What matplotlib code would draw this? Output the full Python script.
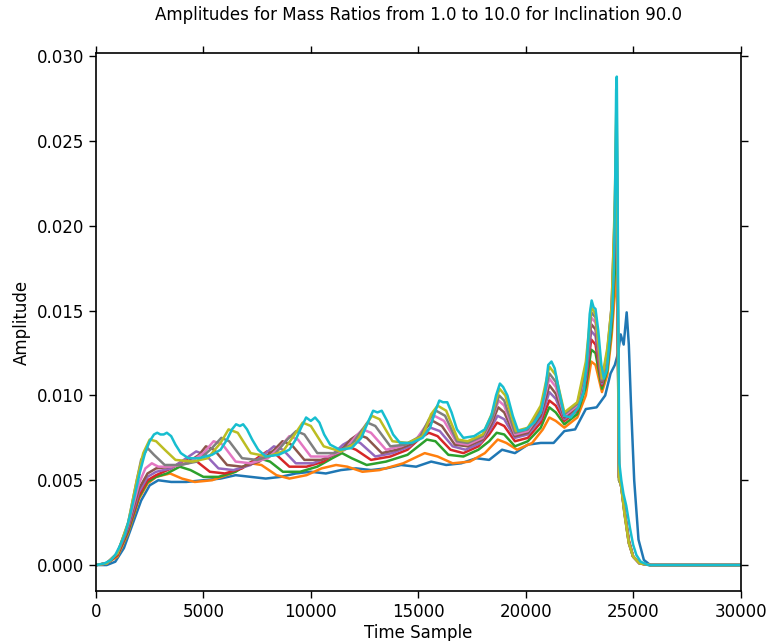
import matplotlib
matplotlib.use("Agg")
import matplotlib.pyplot as plt

mass_ratios = [1.0, 2.0, 3.0, 4.0, 5.0, 6.0, 7.0, 8.0, 9.0, 10.0]
colors = ["#1f77b4", "#ff7f0e", "#2ca02c", "#d62728", "#9467bd",
          "#8c564b", "#e377c2", "#7f7f7f", "#bcbd22", "#17becf"]

t_q1 = [0, 500, 900, 1300, 1700, 2100, 2500, 2900, 3500, 4200, 5000, 5800, 6500, 7200, 7900, 8600,
        9300, 10000, 10700, 11400, 12100, 12800, 13500, 14200, 14900, 15600, 16300, 17000, 17700,
        18300, 18900, 19500, 20100, 20700, 21300, 21800, 22300, 22800, 23300, 23700, 23950, 24150,
        24300, 24420, 24560, 24700, 24800, 24900, 25050, 25250, 25500, 25800, 30000]
a_q1 = [0, 0, 0.0002, 0.0010, 0.0024, 0.0038, 0.0047, 0.0050, 0.0049, 0.0049, 0.0050, 0.0051, 0.0053,
        0.0052, 0.0051, 0.0052, 0.0054, 0.0055, 0.0054, 0.0056, 0.0057, 0.0056, 0.0057, 0.0059, 0.0058,
        0.0061, 0.0059, 0.0060, 0.0063, 0.0062, 0.0068, 0.0066, 0.0071, 0.0072, 0.0072, 0.0079, 0.0080,
        0.0092, 0.0093, 0.0100, 0.0113, 0.0118, 0.0125, 0.0136, 0.0130, 0.0149, 0.0130, 0.0095, 0.0050,
        0.0015, 0.0003, 0, 0]

t_q2 = [0, 500, 1000, 1500, 2000, 2400, 2800, 3450, 4000, 4600, 5400, 6300, 7200, 7700, 8400, 9000,
        9800, 10500, 11175, 11700, 12400, 13200, 14300, 15300, 15900, 16600, 17400, 18100, 18700, 19100,
        19600, 20300, 20800, 21100, 21400, 21800, 22400, 22800, 23050, 23250, 23550, 23800, 24000, 24150,
        24230, 24300, 24350, 24450, 24600, 24800, 25000, 25300, 25800, 30000]
a_q2 = [0, 0.0001, 0.0005, 0.0019, 0.0039, 0.0048, 0.0052, 0.0054, 0.0051, 0.0049, 0.0050, 0.0054,
        0.0060, 0.0059, 0.0053, 0.0051, 0.0053, 0.0057, 0.0059, 0.0058, 0.0055, 0.0056, 0.0060, 0.0066,
        0.0064, 0.0060, 0.0061, 0.0066, 0.0074, 0.0072, 0.0068, 0.0072, 0.0080, 0.0087, 0.0085, 0.0081,
        0.0087, 0.0100, 0.0120, 0.0118, 0.0102, 0.0112, 0.0135, 0.0160, 0.0182, 0.0120, 0.0050, 0.0047,
        0.0032, 0.0015, 0.0005, 0.0001, 0, 0]

t_q3 = [0, 500, 1000, 1500, 2000, 2400, 2800, 3300, 3900, 4400, 5000, 5700, 6500, 7100, 7600, 8100,
        8700, 9500, 10300, 11000, 11450, 11900, 12600, 13500, 14500, 15000, 15400, 15800, 16400, 17100,
        17800, 18300, 18650, 19000, 19500, 20100, 20700, 21100, 21400, 21800, 22400, 22800, 23050, 23250,
        23550, 23800, 24000, 24150, 24230, 24290, 24340, 24450, 24600, 24800, 25000, 25300, 25800, 30000]
a_q3 = [0, 0.0001, 0.0006, 0.0020, 0.0040, 0.0049, 0.0052, 0.0054, 0.0058, 0.0056, 0.0052, 0.0052,
        0.0055, 0.0060, 0.0063, 0.0061, 0.0055, 0.0055, 0.0058, 0.0063, 0.0066, 0.0063, 0.0059, 0.0061,
        0.0065, 0.0070, 0.0074, 0.0073, 0.0065, 0.0064, 0.0068, 0.0073, 0.0078, 0.0077, 0.0070, 0.0073,
        0.0081, 0.0093, 0.0090, 0.0083, 0.0089, 0.0105, 0.0127, 0.0125, 0.0104, 0.0115, 0.0140, 0.0175,
        0.0205, 0.0130, 0.0050, 0.0047, 0.0032, 0.0014, 0.0005, 0.0001, 0, 0]

t_q4 = [0, 500, 1000, 1500, 2000, 2400, 2800, 3500, 4000, 4305, 4700, 5300, 6000, 6800, 7500, 7960,
        8400, 9000, 9800, 10600, 11300, 11700, 12100, 12800, 13700, 14500, 15100, 15490, 15900, 16500,
        17100, 17800, 18300, 18670, 19000, 19500, 20100, 20700, 21100, 21400, 21800, 22400, 22800, 23050,
        23250, 23550, 23800, 24000, 24150, 24230, 24290, 24340, 24450, 24600, 24800, 25000, 25300, 25800,
        30000]
a_q4 = [0, 0.0001, 0.0006, 0.0021, 0.0041, 0.0050, 0.0053, 0.0057, 0.0061, 0.0063, 0.0061, 0.0055,
        0.0054, 0.0057, 0.0063, 0.0067, 0.0065, 0.0058, 0.0058, 0.0061, 0.0068, 0.0070, 0.0068, 0.0062,
        0.0064, 0.0068, 0.0075, 0.0078, 0.0076, 0.0068, 0.0066, 0.0070, 0.0077, 0.0084, 0.0082, 0.0073,
        0.0075, 0.0084, 0.0097, 0.0094, 0.0085, 0.0091, 0.0108, 0.0133, 0.0130, 0.0106, 0.0118, 0.0145,
        0.0185, 0.0225, 0.0135, 0.0052, 0.0047, 0.0032, 0.0014, 0.0005, 0.0001, 0, 0]

t_q5 = [0, 500, 1000, 1500, 2000, 2400, 2800, 3500, 4200, 4665, 5100, 5700, 6400, 7200, 7900, 8280,
        8700, 9300, 10100, 10900, 11500, 11920, 12300, 13000, 13800, 14600, 15200, 15570, 16000, 16600,
        17200, 17900, 18350, 18690, 19000, 19500, 20100, 20700, 21100, 21400, 21800, 22400, 22800, 23050,
        23250, 23550, 23800, 24000, 24150, 24230, 24290, 24340, 24450, 24600, 24800, 25000, 25300, 25800,
        30000]
a_q5 = [0, 0.0001, 0.0007, 0.0022, 0.0043, 0.0052, 0.0055, 0.0057, 0.0063, 0.0067, 0.0065, 0.0057,
        0.0056, 0.0059, 0.0066, 0.0070, 0.0068, 0.0060, 0.0060, 0.0064, 0.0071, 0.0074, 0.0072, 0.0064,
        0.0066, 0.0070, 0.0077, 0.0081, 0.0079, 0.0070, 0.0068, 0.0072, 0.0080, 0.0088, 0.0086, 0.0075,
        0.0077, 0.0086, 0.0102, 0.0098, 0.0086, 0.0092, 0.0110, 0.0138, 0.0135, 0.0107, 0.0120, 0.0148,
        0.0195, 0.0240, 0.0140, 0.0052, 0.0046, 0.0031, 0.0014, 0.0005, 0.0001, 0, 0]

t_q6 = [0, 500, 1000, 1500, 2000, 2400, 2800, 3500, 4200, 4800, 5115, 5500, 6100, 6800, 7600, 8300,
        8680, 9100, 9700, 10500, 11300, 11850, 12190, 12600, 13300, 14000, 14800, 15300, 15670, 16100,
        16700, 17300, 18000, 18400, 18720, 19000, 19500, 20100, 20700, 21100, 21400, 21800, 22400, 22800,
        23050, 23250, 23550, 23800, 24000, 24150, 24230, 24290, 24340, 24450, 24600, 24800, 25000, 25300,
        25800, 30000]
a_q6 = [0, 0.0001, 0.0007, 0.0023, 0.0045, 0.0054, 0.0057, 0.0058, 0.0060, 0.0065, 0.0070, 0.0068,
        0.0059, 0.0058, 0.0061, 0.0068, 0.0073, 0.0071, 0.0062, 0.0062, 0.0066, 0.0074, 0.0077, 0.0075,
        0.0066, 0.0068, 0.0072, 0.0080, 0.0085, 0.0082, 0.0071, 0.0070, 0.0074, 0.0083, 0.0093, 0.0090,
        0.0076, 0.0078, 0.0088, 0.0106, 0.0101, 0.0087, 0.0093, 0.0112, 0.0142, 0.0139, 0.0108, 0.0122,
        0.0150, 0.0200, 0.0252, 0.0145, 0.0052, 0.0046, 0.0031, 0.0013, 0.0005, 0.0001, 0, 0]

t_q7 = [0, 500, 1000, 1500, 2000, 2300, 2600, 2900, 3500, 4300, 5000, 5475, 5900, 6500, 7200, 8000,
        8600, 9000, 9400, 10000, 10800, 11600, 12100, 12410, 12800, 13500, 14200, 14900, 15400, 15750,
        16200, 16800, 17300, 18000, 18400, 18740, 19000, 19500, 20100, 20700, 21100, 21400, 21800, 22400,
        22800, 23050, 23250, 23550, 23800, 24000, 24150, 24230, 24290, 24340, 24450, 24600, 24800, 25000,
        25300, 25800, 30000]
a_q7 = [0, 0.0001, 0.0007, 0.0024, 0.0048, 0.0057, 0.0060, 0.0058, 0.0058, 0.0060, 0.0066, 0.0073,
        0.0071, 0.0061, 0.0060, 0.0063, 0.0070, 0.0076, 0.0074, 0.0064, 0.0064, 0.0068, 0.0076, 0.0080,
        0.0078, 0.0068, 0.0070, 0.0074, 0.0083, 0.0088, 0.0085, 0.0072, 0.0071, 0.0075, 0.0085, 0.0097,
        0.0094, 0.0077, 0.0079, 0.0090, 0.0110, 0.0105, 0.0088, 0.0094, 0.0114, 0.0146, 0.0143, 0.0109,
        0.0124, 0.0152, 0.0205, 0.0263, 0.0150, 0.0052, 0.0046, 0.0031, 0.0013, 0.0005, 0.0001, 0, 0]

t_q8 = [0, 500, 1000, 1500, 1900, 2100, 2400, 2700, 3200, 3900, 4700, 5400, 5835, 6200, 6800, 7500,
        8300, 8900, 9320, 9700, 10300, 11100, 11900, 12350, 12630, 13000, 13700, 14400, 15100, 15500,
        15830, 16250, 16800, 17300, 18000, 18450, 18760, 19000, 19500, 20100, 20700, 21100, 21400, 21800,
        22400, 22800, 23050, 23250, 23550, 23800, 24000, 24150, 24230, 24290, 24340, 24450, 24600, 24800,
        25000, 25300, 25800, 30000]
a_q8 = [0, 0.0001, 0.0007, 0.0025, 0.0050, 0.0062, 0.0069, 0.0065, 0.0059, 0.0059, 0.0061, 0.0069,
        0.0075, 0.0073, 0.0063, 0.0062, 0.0065, 0.0074, 0.0079, 0.0077, 0.0066, 0.0066, 0.0071, 0.0079,
        0.0084, 0.0082, 0.0070, 0.0071, 0.0076, 0.0086, 0.0091, 0.0088, 0.0073, 0.0072, 0.0076, 0.0087,
        0.0100, 0.0097, 0.0078, 0.0080, 0.0092, 0.0113, 0.0108, 0.0089, 0.0095, 0.0116, 0.0149, 0.0146,
        0.0109, 0.0126, 0.0153, 0.0210, 0.0272, 0.0155, 0.0052, 0.0046, 0.0030, 0.0013, 0.0005, 0.0001,
        0, 0]

t_q9 = [0, 500, 1000, 1500, 1900, 2200, 2500, 2800, 3200, 3700, 4500, 5200, 5800, 6170, 6600, 7200,
        8000, 8700, 9250, 9620, 10000, 10600, 11400, 12100, 12550, 12840, 13200, 13800, 14500, 15200,
        15600, 15900, 16300, 16850, 17300, 18000, 18450, 18780, 19050, 19550, 20100, 20700, 21100, 21400,
        21800, 22400, 22800, 23050, 23250, 23550, 23800, 24000, 24150, 24230, 24290, 24340, 24450, 24600,
        24800, 25000, 25300, 25800, 30000]
a_q9 = [0, 0.0001, 0.0007, 0.0025, 0.0050, 0.0066, 0.0074, 0.0073, 0.0068, 0.0062, 0.0061, 0.0063,
        0.0072, 0.0080, 0.0078, 0.0066, 0.0064, 0.0067, 0.0077, 0.0084, 0.0082, 0.0070, 0.0067, 0.0072,
        0.0082, 0.0088, 0.0086, 0.0073, 0.0072, 0.0076, 0.0089, 0.0094, 0.0091, 0.0074, 0.0073, 0.0077,
        0.0090, 0.0104, 0.0100, 0.0079, 0.0081, 0.0094, 0.0117, 0.0112, 0.0090, 0.0096, 0.0120, 0.0152,
        0.0148, 0.0110, 0.0128, 0.0152, 0.0215, 0.0280, 0.0160, 0.0052, 0.0046, 0.0030, 0.0013, 0.0005,
        0.0001, 0, 0]

t_q10 = [0, 400, 700, 900, 1100, 1350, 1600, 1800, 2050, 2280,
         2500, 2700, 2850, 3000, 3150, 3300, 3500, 3700, 3950, 4300,
         4800, 5400, 5800, 6100, 6330, 6520, 6700, 6850, 7030, 7270,
         7550, 7900, 8500, 9000, 9300, 9550, 9780, 10000, 10200, 10400,
         10620, 10900, 11350, 11900, 12350, 12650, 12900, 13100, 13300, 13550,
         13830, 14150, 14700, 15200, 15550, 15800, 15980, 16150, 16350, 16550,
         16800, 17100, 17600, 18100, 18400, 18620, 18800, 18950, 19150, 19400,
         19650, 20000, 20400, 20700, 20900, 21050, 21200, 21350, 21550, 21800,
         22100, 22450, 22700, 22850, 22980, 23070, 23160, 23250, 23380, 23520,
         23640, 23780, 23920, 24030, 24110, 24170, 24210, 24240, 24270, 24310,
         24360, 24450, 24550, 24680, 24850, 25000, 25150, 25350, 25700, 30000]
a_q10 = [0, 0.0001, 0.0003, 0.0006, 0.0011, 0.0018, 0.0030, 0.0041, 0.0055, 0.0066,
         0.0073, 0.0077, 0.0078, 0.0077, 0.0077, 0.0078, 0.0076, 0.0071, 0.0066, 0.0063,
         0.0063, 0.0065, 0.0068, 0.0074, 0.0080, 0.0083, 0.0082, 0.0083, 0.0080, 0.0074,
         0.0068, 0.0064, 0.0065, 0.0068, 0.0074, 0.0081, 0.0087, 0.0085, 0.0087, 0.0084,
         0.0077, 0.0071, 0.0068, 0.0069, 0.0075, 0.0084, 0.0091, 0.0090, 0.0091, 0.0085,
         0.0077, 0.0072, 0.0072, 0.0075, 0.0081, 0.0091, 0.0097, 0.0096, 0.0096, 0.0090,
         0.0080, 0.0075, 0.0076, 0.0080, 0.0088, 0.0100, 0.0107, 0.0105, 0.0100, 0.0088,
         0.0079, 0.0080, 0.0084, 0.0090, 0.0102, 0.0118, 0.0120, 0.0116, 0.0103, 0.0088,
         0.0087, 0.0093, 0.0102, 0.0120, 0.0148, 0.0156, 0.0152, 0.0151, 0.0138, 0.0118,
         0.0110, 0.0115, 0.0135, 0.0150, 0.0175, 0.0230, 0.0280, 0.0288, 0.0240, 0.0140,
         0.0060, 0.0050, 0.0042, 0.0035, 0.0022, 0.0012, 0.0006, 0.0002, 0, 0]

times = [t_q1, t_q2, t_q3, t_q4, t_q5, t_q6, t_q7, t_q8, t_q9, t_q10]
amps = [a_q1, a_q2, a_q3, a_q4, a_q5, a_q6, a_q7, a_q8, a_q9, a_q10]

x_ticks = [0, 5000, 10000, 15000, 20000, 25000, 30000]
y_ticks = [0.000, 0.005, 0.010, 0.015, 0.020, 0.025, 0.030]

plt.rcParams['font.family'] = ['DejaVu Sans']
fig = plt.figure(figsize=(7.69, 6.41), dpi=100)
ax = fig.add_axes([0.1248, 0.078, 0.8382, 0.839])

for t, a, c in zip(times, amps, colors):
    ax.plot(t, a, color=c, lw=1.8, solid_joinstyle='round')

ax.set_xlim(0, 30000)
ax.set_ylim(-0.00153, 0.03018)
ax.set_xticks(x_ticks)
ax.set_yticks(y_ticks)
ax.set_yticklabels([f"{v:.3f}" for v in y_ticks])
ax.tick_params(direction='out', length=5, width=1, labelsize=12,
               top=True, right=True, labeltop=False, labelright=False)
for s in ax.spines.values():
    s.set_linewidth(1.2)
ax.set_xlabel("Time Sample", fontsize=12, labelpad=2)
ax.set_ylabel("Amplitude", fontsize=12)
ax.set_title("Amplitudes for Mass Ratios from 1.0 to 10.0 for Inclination 90.0", fontsize=12, pad=24)

fig.savefig("out.png", dpi=100)
